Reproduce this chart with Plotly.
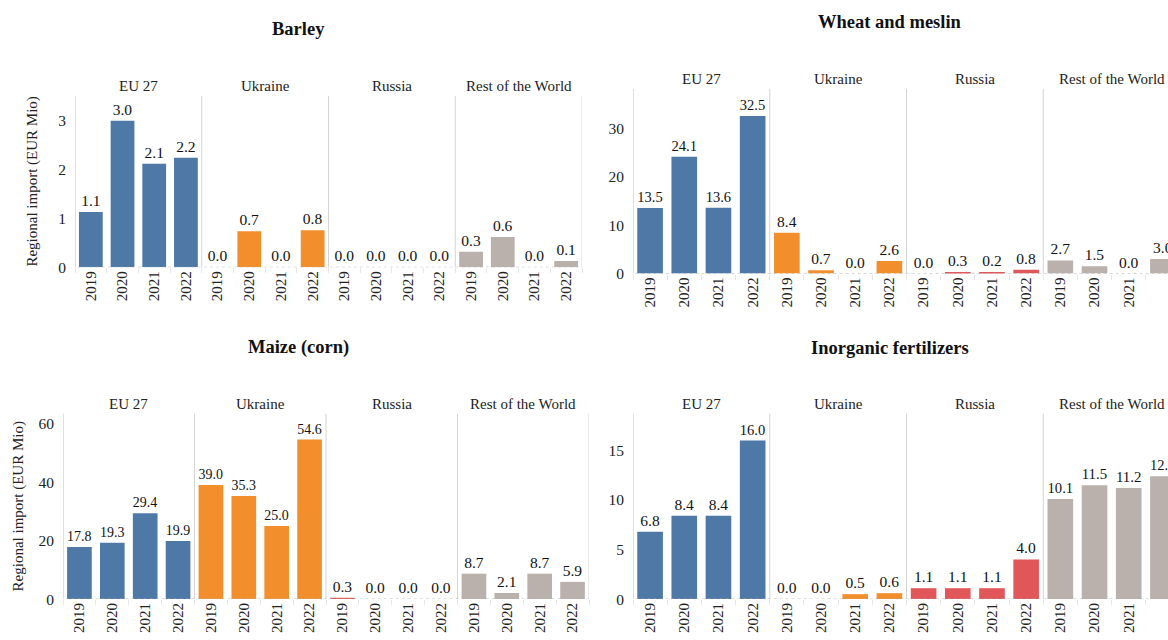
import plotly.graph_objects as go

years = ["2019", "2020", "2021", "2022"]
regions = ["EU 27", "Ukraine", "Russia", "Rest of the World"]
region_colors = ["#4e79a7", "#f28e2b", "#e15759", "#bab0ac"]

barley_eu = [1.13, 3.0, 2.12, 2.24]
barley_ua = [0.0, 0.74, 0.0, 0.76]
barley_ru = [0.0, 0.0, 0.0, 0.0]
barley_row = [0.32, 0.62, 0.0, 0.13]

wheat_eu = [13.5, 24.1, 13.6, 32.5]
wheat_ua = [8.4, 0.7, 0.0, 2.6]
wheat_ru = [0.0, 0.3, 0.2, 0.8]
wheat_row = [2.7, 1.5, 0.0, 3.0]

maize_eu = [17.8, 19.3, 29.4, 19.9]
maize_ua = [39.0, 35.3, 25.0, 54.6]
maize_ru = [0.3, 0.0, 0.0, 0.0]
maize_row = [8.7, 2.1, 8.7, 5.9]

fert_eu = [6.8, 8.4, 8.4, 16.0]
fert_ua = [0.0, 0.0, 0.5, 0.6]
fert_ru = [1.1, 1.1, 1.1, 4.0]
fert_row = [10.1, 11.5, 11.2, 12.4]

W, H = 1168, 640
FONT = "Liberation Serif"

panels = [
    dict(title="Barley", data=[barley_eu, barley_ua, barley_ru, barley_row],
         xpx=(75, 582), ypx=(97, 270.7), yr=3.51, ticks=[0, 1, 2, 3],
         tpos=(298, 29), ytitle=33),
    dict(title="Wheat and meslin", data=[wheat_eu, wheat_ua, wheat_ru, wheat_row],
         xpx=(633, 1180), ypx=(90, 277), yr=38.1, ticks=[0, 10, 20, 30],
         tpos=(890, 22), ytitle=None),
    dict(title="Maize (corn)", data=[maize_eu, maize_ua, maize_ru, maize_row],
         xpx=(63, 589), ypx=(419, 606.7), yr=63.4, ticks=[0, 20, 40, 60],
         tpos=(298, 352), ytitle=18),
    dict(title="Inorganic fertilizers", data=[fert_eu, fert_ua, fert_ru, fert_row],
         xpx=(633, 1180), ypx=(419, 606.7), yr=18.7, ticks=[0, 5, 10, 15],
         tpos=(890, 352), ytitle=None),
]


def px_x(v):
    return v / W


def px_y(v):
    return 1 - v / H


fig = go.Figure()
annotations = []
shapes = []
n = len(regions) * len(years)

for i, p in enumerate(panels):
    k = "" if i == 0 else str(i + 1)
    xa, ya = "x" + k, "y" + k
    xs, ys, cols = [], [], []
    for g, vals in enumerate(p["data"]):
        for j, v in enumerate(vals):
            xs.append(g * len(years) + j)
            ys.append(v)
            cols.append(region_colors[g])
    fig.add_trace(go.Bar(
        x=xs, y=ys, xaxis=xa, yaxis=ya, width=0.75,
        marker=dict(color=cols, line=dict(width=0)),
        texttemplate="%{y:.1f}", textposition="outside", cliponaxis=True,
        textfont=dict(family=FONT, size=15.5, color="#111"),
        showlegend=False, hoverinfo="x+y",
    ))
    x0p, x1p = p["xpx"]
    step = (x1p - x0p) / n
    xmax_px = min(x1p, W)
    xrange = [-0.5, -0.5 + (xmax_px - x0p) / step]
    dom_x = [px_x(x0p), px_x(xmax_px)]
    dom_y = [px_y(p["ypx"][1]), px_y(p["ypx"][0])]
    axkey = "xaxis" + k
    aykey = "yaxis" + k
    fig.layout[axkey] = dict(
        domain=dom_x, range=xrange, anchor=ya,
        tickvals=list(range(n)), ticktext=[years[t % 4] for t in range(n)],
        tickangle=-90, showline=False, showgrid=False, zeroline=False,
        tickfont=dict(family=FONT, size=15, color="#222"), ticks="",
        minor=dict(tickvals=[t + 0.5 for t in range(-1, n)], ticks="outside",
                   ticklen=5, tickcolor="#e6e6e6", tickwidth=1),
        fixedrange=True,
    )
    fig.layout[aykey] = dict(
        domain=dom_y, range=[0, p["yr"]], anchor=xa,
        tickvals=p["ticks"], showgrid=False, zeroline=False, showline=False,
        tickfont=dict(family=FONT, size=15.5, color="#222"), ticks="",
        ticklabelstandoff=8, fixedrange=True,
    )
    for g in range(len(regions) + 1):
        xv = g * len(years) - 0.5
        shapes.append(dict(type="line", xref=xa, yref=ya + " domain",
                           x0=xv, x1=xv, y0=0, y1=1,
                           line=dict(color="#d4d4d4", width=1.5 if g == 0 else 1)))
    shapes.append(dict(type="line", xref=xa, yref=ya, x0=-0.6, x1=n - 0.5,
                       y0=0, y1=0, line=dict(color="#b0b0b0", width=1, dash="dot")))
    for g, r in enumerate(regions):
        annotations.append(dict(
            text=r, xref=xa, yref=ya + " domain", x=g * len(years) + 1.5, y=1,
            yanchor="bottom", xanchor="center", showarrow=False,
            font=dict(family=FONT, size=15, color="#222"),
        ))
    annotations.append(dict(
        text="<b>" + p["title"] + "</b>", xref="paper", yref="paper",
        x=px_x(p["tpos"][0]), y=px_y(p["tpos"][1]), xanchor="center",
        yanchor="middle", showarrow=False,
        font=dict(family=FONT, size=18.5, color="#111"),
    ))
    if p["ytitle"] is not None:
        annotations.append(dict(
            text="Regional import (EUR Mio)", xref="paper", yref="paper",
            x=px_x(p["ytitle"]), y=(dom_y[0] + dom_y[1]) / 2, textangle=-90,
            xanchor="center", yanchor="middle", showarrow=False,
            font=dict(family=FONT, size=15, color="#222"),
        ))

fig.update_layout(
    width=W, height=H, margin=dict(l=0, r=0, t=0, b=0),
    paper_bgcolor="white", plot_bgcolor="white",
    annotations=annotations, shapes=shapes, bargap=0.25,
    font=dict(family=FONT),
)

fig.write_html(
    "out.html",
    config={"displayModeBar": False},
    post_script="document.body.style.margin='0';document.body.style.overflow='hidden';",
)
